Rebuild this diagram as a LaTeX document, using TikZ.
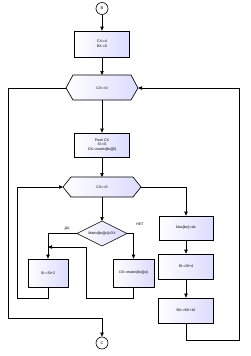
\documentclass[tikz,border=0pt]{standalone}
\usepackage{fontspec}
\setmainfont{Liberation Sans}
\usetikzlibrary{arrows.meta}
\begin{document}
\begin{tikzpicture}[x=1pt,y=-1pt,
  ln/.style={line width=0.65pt},
  arr/.style={ln,-{Triangle[length=4pt,width=3.4pt]}},
  fillsh/.style={left color=white,right color=blue!14},
  box/.style={draw,ln,fillsh,inner sep=0pt,font=\fontsize{3.6}{4.6}\selectfont,align=center},
  conn/.style={draw,ln,circle,fill=white,minimum size=12pt,inner sep=0pt,font=\fontsize{4}{5}\selectfont},
  txt/.style={font=\fontsize{3.6}{4.6}\selectfont,inner sep=0pt}]
\useasboundingbox (0,0) rectangle (250,356);
% connectors
\node[conn] (B) at (102,8.5) {B};
\node[conn] (C) at (102,343) {C};
% boxes
\node[box,minimum width=55pt,minimum height=26pt] (b1) at (102,44) {CX:=4\\BX:=0};
\node[box,minimum width=55pt,minimum height=24pt] (b2) at (102,145) {Push CX\\SI:=0\\DX:=matrix[bx][0]};
\node[box,minimum width=54pt,minimum height=24pt] (bmax) at (186,228) {Max[bx]:=dx};
\node[box,minimum width=55pt,minimum height=25pt] (bdi) at (186,266.5) {DI:=DI+4};
\node[box,minimum width=55pt,minimum height=25pt] (bbx) at (186,310.5) {BX:=BX+16};
\node[box,minimum width=40pt,minimum height=28pt] (bsi) at (48,273) {SI:=SI+2};
\node[box,minimum width=41pt,minimum height=28pt] (bdx) at (133.5,273) {DX:=matrix[bx][si]};
% hexagon 1
\coordinate (h1l) at (66,88); \coordinate (h1r) at (138,88);
\coordinate (h1t) at (102,75); \coordinate (h1b) at (102,100);
\draw[ln,fillsh] (h1l) -- (73,75) -- (131,75) -- (h1r) -- (131,100) -- (73,100) -- cycle;
\node[txt] (h1) at (102,88) {CX<>0};
% hexagon 2
\coordinate (h2l) at (63,187); \coordinate (h2r) at (141,187);
\coordinate (h2t) at (102,177); \coordinate (h2b) at (102,197);
\draw[ln,fillsh] (h2l) -- (71,177) -- (133,177) -- (h2r) -- (133,197) -- (71,197) -- cycle;
\node[txt] (h2) at (102,187) {CX<>0};
% diamond
\coordinate (dl) at (77,233.5); \coordinate (dr) at (127,233.5);
\coordinate (dt) at (102,221); \coordinate (db) at (102,246);
\draw[ln,fillsh] (dl) -- (dt) -- (dr) -- (db) -- cycle;
\node[txt] (d) at (102,233.5) {Matrix[bx][si]<DX};
\node[txt] (yes) at (67,229) {ДА};
\node[txt] (no) at (140,224) {НЕТ};
% main flow
\draw[arr] (B) -- (b1);
\draw[arr] (b1) -- (h1t);
\draw[arr] (h1b) -- (b2);
\draw[arr] (b2) -- (h2t);
\draw[arr] (h2b) -- (dt);
\draw[arr] (h2r) -| (bmax);
\draw[arr] (bmax) -- (bdi);
\draw[arr] (bdi) -- (bbx);
\draw[arr] (bbx.south) |- (239,340) |- (h1r);
\draw[arr] (h1l) -| (8,318) -| (C);
% diamond branches
\draw[arr] (dl) -| (bsi);
\draw[arr] (dr) -| (bdx);
\coordinate (jn) at (48,247);
\draw[arr] (bdx.south) |- (86,298) |- (jn);
\draw[arr] (bsi.south) |- (17,298) |- (h2l);
\end{tikzpicture}
\end{document}
